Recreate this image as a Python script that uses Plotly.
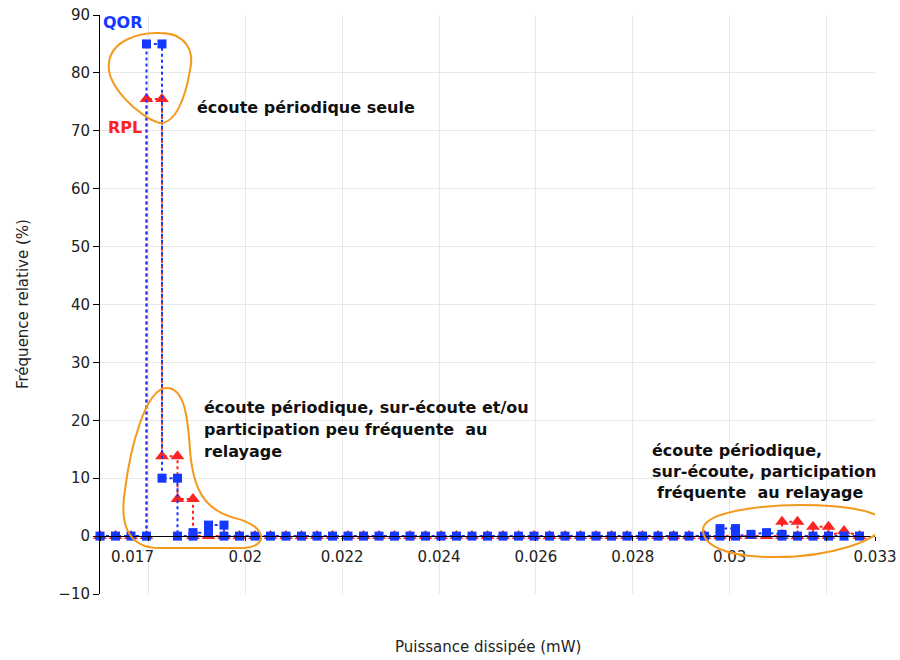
import plotly.graph_objects as go

# puissance dissipée (mW) : centres des classes
puissance = [0.01700, 0.01732, 0.01764, 0.01796, 0.01828, 0.01860, 0.01892, 0.01924, 0.01956, 0.01988,
             0.02020, 0.02052, 0.02084, 0.02116, 0.02148, 0.02180, 0.02212, 0.02244, 0.02276, 0.02308,
             0.02340, 0.02372, 0.02404, 0.02436, 0.02468, 0.02500, 0.02532, 0.02564, 0.02596, 0.02628,
             0.02660, 0.02692, 0.02724, 0.02756, 0.02788, 0.02820, 0.02852, 0.02884, 0.02916, 0.02948,
             0.02980, 0.03012, 0.03044, 0.03076, 0.03108, 0.03140, 0.03172, 0.03204, 0.03236, 0.03268]

# QOR : (indice de classe, fréquence %)
qor_idx = [0, 1, 2, 3, 3, 4, 4, 5, 5, 6, 6, 7, 7, 8, 8, 9, 10, 11, 12, 13, 14, 15, 16, 17, 18, 19, 20,
           21, 22, 23, 24, 25, 26, 27, 28, 29, 30, 31, 32, 33, 34, 35, 36, 37, 38, 39, 40, 40, 41, 41,
           42, 43, 44, 44, 45, 46, 47, 48, 49]
qor_val = [0, 0, 0, 0, 85, 85, 10, 10, 0, 0, 0.6, 0.6, 1.9, 1.9, 0, 0, 0, 0, 0, 0, 0, 0, 0, 0, 0, 0, 0,
           0, 0, 0, 0, 0, 0, 0, 0, 0, 0, 0, 0, 0, 0, 0, 0, 0, 0, 0, 0, 1.3, 1.3, 0,
           0.3, 0.6, 0.3, 0, 0, 0, 0, 0, 0]

# RPL
rpl_idx = [0, 1, 2, 3, 3, 4, 4, 5, 5, 6, 6, 7, 8, 9, 10, 11, 12, 13, 14, 15, 16, 17, 18, 19, 20,
           21, 22, 23, 24, 25, 26, 27, 28, 29, 30, 31, 32, 33, 34, 35, 36, 37, 38, 39, 40, 41, 42, 43,
           44, 44, 45, 45, 46, 46, 47, 47, 48, 49]
rpl_val = [0, 0, 0, 0, 75.5, 75.5, 13.8, 13.8, 6.4, 6.4, 0, 0, 0, 0, 0, 0, 0, 0, 0, 0, 0, 0, 0, 0, 0,
           0, 0, 0, 0, 0, 0, 0, 0, 0, 0, 0, 0, 0, 0, 0, 0, 0, 0, 0, 0, 0, 0, 0,
           0, 2.5, 2.5, 0, 0, 1.6, 1.6, 0, 0.9, 0]

x_ticks = [0.017, 0.018, 0.02, 0.022, 0.024, 0.026, 0.028, 0.03, 0.032, 0.033]
x_labels = ['', '', '0.02', '0.022', '0.024', '0.026', '0.028', '0.03', '', '0.033']

BLUE = '#1538ff'
RED = '#ff2222'
ORANGE = '#f39a1e'
FONT = 'DejaVu Sans'


def pt(px, py):
    # repère écran de la figure -> coordonnées des axes
    return 0.017 + (px - 100) / 48440.0, (536 - py) / 5.79


def blob(*pts):
    # chemin bezier : M p0 C a b p1 C ... Z
    s = 'M %f,%f' % pt(*pts[0])
    rest = pts[1:]
    for i in range(0, len(rest), 3):
        s += ' C ' + ' '.join('%f,%f' % pt(*p) for p in rest[i:i + 3])
    return s + ' Z'


fig = go.Figure()

fig.add_trace(go.Scatter(
    x=[puissance[k] for k in rpl_idx], y=rpl_val, name='RPL',
    mode='lines+markers',
    line=dict(color=RED, width=2, dash='dot'),
    marker=dict(symbol='triangle-up', size=12, color=RED),
    cliponaxis=False,
))
fig.add_trace(go.Scatter(
    x=[puissance[k] for k in qor_idx], y=qor_val, name='QOR',
    mode='lines+markers',
    line=dict(color=BLUE, width=2, dash='dot'),
    marker=dict(symbol='square', size=9, color=BLUE),
    cliponaxis=False,
))

shapes = [
    blob((160, 123), (140, 118), (105, 85), (109, 62), (112, 40), (140, 32), (160, 33),
         (185, 33), (195, 50), (190, 70), (185, 100), (175, 123), (160, 123)),
    blob((167, 388), (185, 388), (188, 420), (190, 450), (193, 490), (205, 510), (235, 518),
         (268, 526), (270, 548), (240, 548), (200, 548), (180, 548), (160, 548),
         (125, 548), (120, 520), (125, 490), (130, 450), (145, 388), (167, 388)),
    blob((703, 530), (703, 512), (760, 505), (800, 505), (850, 505), (883, 512), (883, 523),
         (883, 540), (830, 557), (775, 557), (725, 557), (703, 545), (703, 530)),
]
for p in shapes:
    fig.add_shape(type='path', path=p, xref='x', yref='y', layer='above',
                  line=dict(color=ORANGE, width=2))

notes = [
    (195, 107, 'écoute périodique seule'),
    (202, 407, 'écoute périodique, sur-écoute et/ou'),
    (202, 429, 'participation peu fréquente  au'),
    (202, 451, 'relayage'),
    (650, 450, 'écoute périodique,'),
    (650, 471, 'sur-écoute, participation'),
    (655, 492, 'fréquente  au relayage'),
]
for px, py, txt in notes:
    x, y = pt(px, py)
    fig.add_annotation(x=x, y=y, text='<b>%s</b>' % txt, showarrow=False,
                       xanchor='left', yanchor='middle',
                       font=dict(family=FONT, size=16, color='#111111'))

for px, py, txt, col in [(101, 22, 'QOR', BLUE), (106, 127, 'RPL', RED)]:
    x, y = pt(px, py)
    fig.add_annotation(x=x, y=y, text='<b>%s</b>' % txt, showarrow=False,
                       xanchor='left', yanchor='middle',
                       font=dict(family=FONT, size=16, color=col))

# premier libellé de l'axe x, ramené vers l'intérieur comme sur l'original
fig.add_annotation(x=0.017, y=0, xref='x', yref='y', text='0.017', showarrow=False,
                   xanchor='left', yanchor='top', xshift=9, yshift=-10,
                   font=dict(family=FONT, size=15, color='#222222'))

fig.add_annotation(x=0.5, y=-0.092, xref='paper', yref='paper', text='Puissance dissipée (mW)',
                   showarrow=False, yanchor='middle',
                   font=dict(family=FONT, size=15, color='#222222'))
fig.add_annotation(x=-0.1, y=0.5, xref='paper', yref='paper', text='Fréquence relative (%)',
                   showarrow=False, textangle=-90, xanchor='center',
                   font=dict(family=FONT, size=15, color='#222222'))

fig.update_layout(
    width=900, height=660,
    margin=dict(l=100, r=25, t=15, b=66),
    paper_bgcolor='white', plot_bgcolor='white',
    showlegend=False,
    font=dict(family=FONT, size=15, color='#222222'),
    xaxis=dict(
        range=[0.017, 0.033],
        tickvals=x_ticks, ticktext=x_labels,
        anchor='free', position=0.1,
        showline=True, linecolor='black', linewidth=1,
        ticks='outside', ticklen=4, tickcolor='black',
        ticklabelstandoff=3, ticklabeloverflow='allow',
        showgrid=True, gridcolor='#e8e8e8',
        zeroline=False, automargin=False,
    ),
    yaxis=dict(
        range=[-10, 90], dtick=10,
        showline=True, linecolor='black', linewidth=1,
        ticks='outside', ticklen=6, tickcolor='black',
        ticklabeloverflow='allow',
        showgrid=True, gridcolor='#e8e8e8',
        zeroline=False, automargin=False,
    ),
)

# sans marge de page, la figure occupe exactement la fenêtre
fig.write_html('out.html', config={'displayModeBar': False},
               post_script="document.body.style.margin = '0';")
